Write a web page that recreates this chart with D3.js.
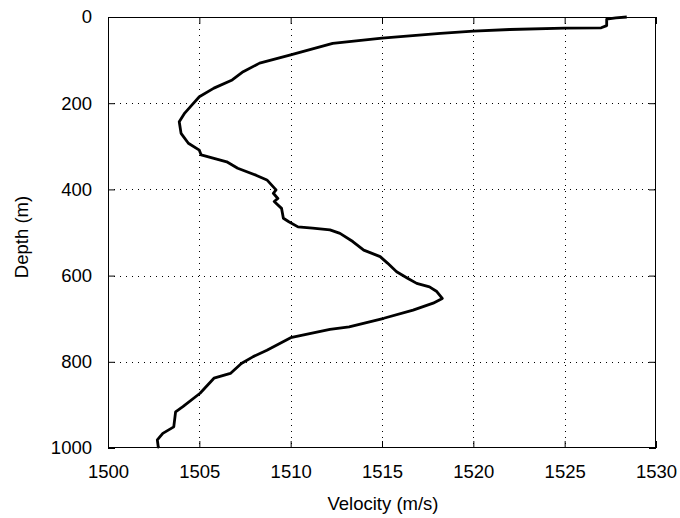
<!DOCTYPE html>
<html>
<head>
<meta charset="utf-8">
<script src="https://cdn.jsdelivr.net/npm/d3@7"></script>
<style>
  html, body { margin: 0; padding: 0; background: #fff; }
  svg { display: block; }
  text { font-family: "Liberation Sans", Arial, Helvetica, sans-serif; fill: #000; }
</style>
</head>
<body>
<svg id="chart" width="680" height="518"></svg>
<script>
// ---- data ----
const velocity = [
  1528.4, 1527.8, 1527.3, 1527.3, 1527.0, 1525.0, 1522.0, 1520.0, 1518.2, 1515.0,
  1512.3, 1510.0, 1508.3, 1507.4, 1506.8, 1505.8, 1505.0, 1504.6, 1504.2, 1503.9,
  1504.0, 1504.4, 1505.0, 1505.1, 1505.8, 1506.5, 1507.1, 1508.1, 1508.7, 1509.2,
  1509.05, 1509.3, 1509.1, 1509.5, 1509.6, 1509.9, 1510.4, 1511.2, 1512.15, 1512.7,
  1513.4, 1514.0, 1514.9, 1515.3, 1515.8, 1516.4, 1516.9, 1517.6, 1518.0, 1518.3,
  1517.8, 1516.7, 1515.1, 1513.2, 1512.15, 1510.0, 1508.7, 1507.95, 1507.3, 1506.7,
  1505.8, 1505.04, 1504.1, 1503.7, 1503.6, 1503.0, 1502.7, 1502.75, 1502.8
];
const depth = [
  0, 2, 5, 20, 25, 26, 29, 33, 38, 49,
  61, 88, 107, 127, 146, 165, 185, 204, 223, 243,
  270, 293, 309, 320, 328, 336, 351, 367, 378, 401,
  409, 421, 428, 444, 467, 475, 487, 490, 494, 502,
  521, 541, 556, 571, 591, 606, 618, 626, 637, 653,
  664, 680, 699, 719, 725, 744, 773, 788, 804, 827,
  838, 873, 904, 916, 951, 966, 981, 997, 1000
];
const xTicks = [1500, 1505, 1510, 1515, 1520, 1525, 1530];
const yTicks = [0, 200, 400, 600, 800, 1000];
const xLabel = "Velocity (m/s)";
const yLabel = "Depth (m)";

// ---- layout ----
const L = 108, R = 656, T = 17, B = 448;
const FS = "18.5px";
const svg = d3.select("#chart");
const x = d3.scaleLinear().domain([1500, 1530]).range([L, R]);
const y = d3.scaleLinear().domain([0, 1000]).range([T, B]);

// grid
const grid = svg.append("g");
grid.selectAll("line.gx").data(xTicks.slice(1, -1)).join("line")
  .attr("x1", d => Math.round(x(d)) + 0.5).attr("x2", d => Math.round(x(d)) + 0.5)
  .attr("y1", T).attr("y2", B)
  .attr("stroke", "#000").attr("stroke-width", 1).attr("stroke-dasharray", "1,5");
grid.selectAll("line.gy").data(yTicks.slice(1, -1)).join("line")
  .attr("y1", d => Math.round(y(d)) + 0.5).attr("y2", d => Math.round(y(d)) + 0.5)
  .attr("x1", L).attr("x2", R)
  .attr("stroke", "#000").attr("stroke-width", 1).attr("stroke-dasharray", "1,5");

// axes (ticks inward, labels)
const fmt = d3.format("d");
const axB = svg.append("g").attr("transform", `translate(0,${B})`)
  .call(d3.axisBottom(x).tickValues(xTicks).tickFormat(fmt).tickSizeInner(-7).tickSizeOuter(0).tickPadding(17));
const axT = svg.append("g").attr("transform", `translate(0,${T})`)
  .call(d3.axisTop(x).tickValues(xTicks).tickFormat("").tickSizeInner(-7).tickSizeOuter(0));
const axL = svg.append("g").attr("transform", `translate(${L},0)`)
  .call(d3.axisLeft(y).tickValues(yTicks).tickFormat(fmt).tickSizeInner(-7).tickSizeOuter(0).tickPadding(16));
const axR = svg.append("g").attr("transform", `translate(${R},0)`)
  .call(d3.axisRight(y).tickValues(yTicks).tickFormat("").tickSizeInner(-7).tickSizeOuter(0));

[axB, axT, axL, axR].forEach(g => {
  g.attr("font-size", null).attr("font-family", null);
  g.select(".domain").remove();
  g.selectAll(".tick line").attr("stroke", "#000");
  g.selectAll("text").style("font-size", FS).attr("fill", "#000")
    .style("font-family", '"Liberation Sans", Arial, sans-serif');
});
axB.selectAll("text").attr("dy", "0.71em");

// frame
svg.append("rect").attr("x", L + 0.5).attr("y", T + 0.5)
  .attr("width", R - L - 1).attr("height", B - T - 1)
  .attr("fill", "none").attr("stroke", "#000").attr("stroke-width", 1);

// profile line
const pts = velocity.map((v, i) => [v, depth[i]]);
svg.append("path").datum(pts)
  .attr("fill", "none").attr("stroke", "#000").attr("stroke-width", 2.8)
  .attr("stroke-linejoin", "round")
  .attr("d", d3.line().x(d => x(d[0])).y(d => y(d[1])));

// axis titles
svg.append("text").attr("x", (L + R) / 2 + 1).attr("y", 510)
  .attr("text-anchor", "middle").style("font-size", FS).text(xLabel);
svg.append("text").attr("transform", `translate(28,237) rotate(-90)`)
  .attr("text-anchor", "middle").style("font-size", FS).text(yLabel);
</script>
</body>
</html>
